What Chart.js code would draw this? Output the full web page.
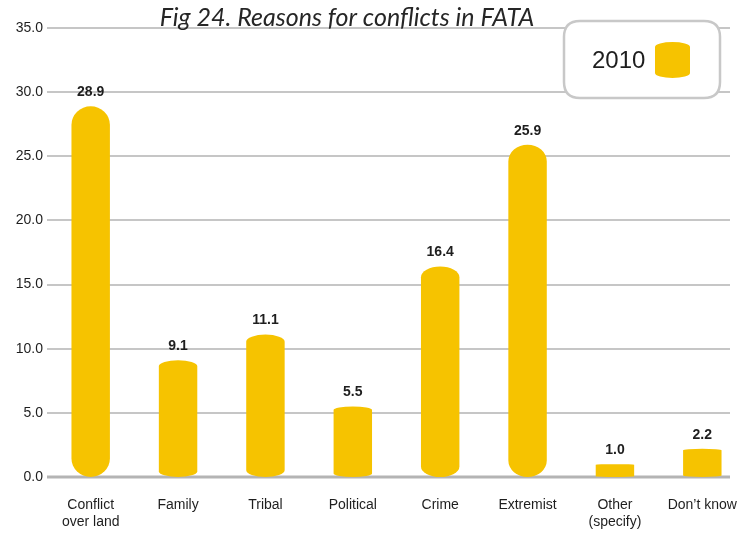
<!DOCTYPE html>
<html>
<head>
<meta charset="utf-8">
<script src="https://cdn.jsdelivr.net/npm/chart.js@4/dist/chart.umd.min.js"></script>
<style>
  html, body { margin: 0; padding: 0; background: #ffffff; }
  #wrap { width: 748px; height: 536px; position: relative; }
</style>
</head>
<body>
<div id="wrap"><canvas id="chart" width="748" height="536"></canvas></div>
<script>
// Survey results: reasons for conflicts in FATA (percent of respondents)
const categories = [
  ["Conflict", "over land"],
  "Family",
  "Tribal",
  "Political",
  "Crime",
  "Extremist",
  ["Other", "(specify)"],
  "Don\u2019t know"
];
const seriesLabel = "2010";
const values2010 = [28.9, 9.1, 11.1, 5.5, 16.4, 25.9, 1.0, 2.2];
const yMin = 0, yMax = 35, yStep = 5;
const chartTitle = "Fig 24. Reasons for conflicts in FATA";

const BAR_COLOR = "#F6C300";
const GRID_COLOR = "#c6c6c6";
const TEXT_COLOR = "#1e1e1e";
const BASE_FONT = "'Liberation Sans', Arial, sans-serif";

// Cylinder-like bar: elliptical caps at top and bottom
function cylinderPath(ctx, x, top, base, w) {
  const h = base - top;
  const rx = w / 2;
  const ry = Math.max(0.3, Math.min(rx, h * 0.05));
  ctx.beginPath();
  ctx.moveTo(x - rx, top + ry);
  ctx.ellipse(x, top + ry, rx, ry, 0, Math.PI, 2 * Math.PI);
  ctx.lineTo(x + rx, base - ry);
  ctx.ellipse(x, base - ry, rx, ry, 0, 0, Math.PI);
  ctx.closePath();
}

function roundRect(ctx, x, y, w, h, r) {
  ctx.beginPath();
  ctx.moveTo(x + r, y);
  ctx.lineTo(x + w - r, y);
  ctx.quadraticCurveTo(x + w, y, x + w, y + r);
  ctx.lineTo(x + w, y + h - r);
  ctx.quadraticCurveTo(x + w, y + h, x + w - r, y + h);
  ctx.lineTo(x + r, y + h);
  ctx.quadraticCurveTo(x, y + h, x, y + h - r);
  ctx.lineTo(x, y + r);
  ctx.quadraticCurveTo(x, y, x + r, y);
  ctx.closePath();
}

const decorPlugin = {
  id: "decor",
  beforeDatasetsDraw(chart) {
    const { ctx, chartArea, scales } = chart;
    const y = scales.y;
    ctx.save();
    y.ticks.forEach(t => {
      const py = Math.round(y.getPixelForValue(t.value));
      const isBase = t.value === yMin;
      ctx.strokeStyle = isBase ? "#b4b4b4" : GRID_COLOR;
      ctx.lineWidth = isBase ? 3 : 2;
      ctx.beginPath();
      ctx.moveTo(chartArea.left, py);
      ctx.lineTo(chartArea.right - 16, py);
      ctx.stroke();
    });
    ctx.restore();
  },
  afterDatasetsDraw(chart) {
    const { ctx } = chart;
    const meta = chart.getDatasetMeta(0);
    const ds = chart.data.datasets[0];
    ctx.save();
    meta.data.forEach((el, i) => {
      const p = el.getProps(["x", "y", "base", "width"], true);
      ctx.fillStyle = BAR_COLOR;
      cylinderPath(ctx, p.x, p.y, p.base, p.width);
      ctx.fill();
      ctx.fillStyle = TEXT_COLOR;
      ctx.font = "bold 14px " + BASE_FONT;
      ctx.textAlign = "center";
      ctx.textBaseline = "middle";
      ctx.fillText(ds.data[i].toFixed(1), p.x, p.y - 14);
    });

    // title
    ctx.fillStyle = "#262626";
    ctx.font = "italic 25px Lato, 'Open Sans', sans-serif";
    ctx.textAlign = "center";
    ctx.textBaseline = "alphabetic";
    ctx.fillText(chartTitle, 347, 26);

    // legend box
    ctx.fillStyle = "#ffffff";
    ctx.strokeStyle = "#c8c8c8";
    ctx.lineWidth = 2.5;
    roundRect(ctx, 564, 21, 156, 77, 16);
    ctx.fill();
    ctx.stroke();
    ctx.fillStyle = TEXT_COLOR;
    ctx.font = "24px " + BASE_FONT;
    ctx.textAlign = "left";
    ctx.textBaseline = "middle";
    ctx.fillText(ds.label, 592, 61);
    ctx.fillStyle = ds.borderColor;
    const sx = 655, sw = 35, st = 42, sb = 78, sr = 5;
    ctx.beginPath();
    ctx.moveTo(sx, st + sr);
    ctx.ellipse(sx + sw / 2, st + sr, sw / 2, sr, 0, Math.PI, 2 * Math.PI);
    ctx.lineTo(sx + sw, sb - sr);
    ctx.ellipse(sx + sw / 2, sb - sr, sw / 2, sr, 0, 0, Math.PI);
    ctx.closePath();
    ctx.fill();
    ctx.restore();
  }
};

new Chart(document.getElementById("chart"), {
  type: "bar",
  data: {
    labels: categories,
    datasets: [{
      label: seriesLabel,
      data: values2010,
      backgroundColor: "rgba(0,0,0,0)",
      borderColor: BAR_COLOR,
      borderWidth: 0,
      barPercentage: 0.44,
      categoryPercentage: 1.0
    }]
  },
  options: {
    responsive: false,
    animation: false,
    devicePixelRatio: 1,
    layout: { padding: { top: 28, right: 2, left: 0, bottom: 0 } },
    plugins: {
      legend: { display: false },
      title: { display: false },
      tooltip: { enabled: false }
    },
    scales: {
      x: {
        grid: { display: false, drawTicks: false },
        border: { display: false },
        ticks: {
          color: TEXT_COLOR,
          font: { family: BASE_FONT, size: 14 },
          padding: 20,
          maxRotation: 0,
          autoSkip: false
        },
        afterFit: s => {
          s.height = 59;
          s.paddingLeft = 0;
          s.paddingRight = 0;
        }
      },
      y: {
        min: yMin,
        max: yMax,
        grid: { display: false, drawTicks: false },
        border: { display: false },
        ticks: {
          stepSize: yStep,
          color: TEXT_COLOR,
          font: { family: BASE_FONT, size: 14 },
          padding: 4,
          callback: v => Number(v).toFixed(1)
        },
        afterFit: s => {
          s.width = 47;
          s.paddingTop = 0;
          s.paddingBottom = 0;
        }
      }
    }
  },
  plugins: [decorPlugin]
});
</script>
</body>
</html>
